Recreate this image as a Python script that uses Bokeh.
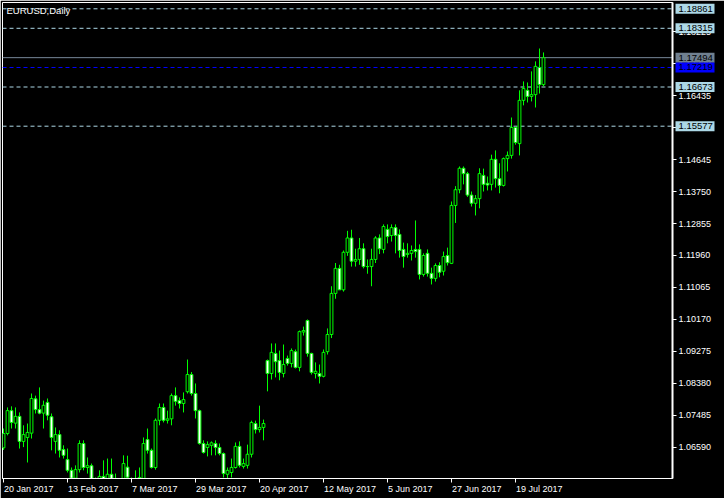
from bokeh.plotting import figure
from bokeh.layouts import row
from bokeh.models import (FixedTicker, PrintfTickFormatter, Span, Label, ColumnDataSource,
                          Range1d, LinearAxis)
from bokeh.core.properties import value
from bokeh.embed import file_html
from bokeh.resources import INLINE

# ---- data (EURUSD daily) ----
opens = [1.0658, 1.0698, 1.0762, 1.0727, 1.0746, 1.0676, 1.0687, 1.0699, 1.0795, 1.0765,
         1.0755, 1.0785, 1.0745, 1.0676, 1.0695, 1.0653, 1.0625, 1.0595, 1.0573, 1.0597,
         1.0670, 1.0603, 1.0608, 1.0540, 1.0557, 1.0578, 1.0567, 1.0584, 1.0570, 1.0545,
         1.0505, 1.0604, 1.0566, 1.0556, 1.0548, 1.0566, 1.0681, 1.0651, 1.0603, 1.0735,
         1.0771, 1.0735, 1.0739, 1.0804, 1.0790, 1.0782, 1.0815, 1.0863, 1.0810, 1.0762,
         1.0670, 1.0659, 1.0665, 1.0670, 1.0659, 1.0642, 1.0584, 1.0589, 1.0603, 1.0662,
         1.0606, 1.0609, 1.0640, 1.0726, 1.0709, 1.0715, 1.0902, 1.0866, 1.0922, 1.0902,
         1.0866, 1.0908, 1.0894, 1.0927, 1.0883, 1.0982, 1.1014, 1.0922, 1.0866, 1.0866,
         1.0858, 1.0927, 1.0975, 1.1090, 1.1160, 1.1100, 1.1205, 1.1245, 1.1180, 1.1185,
         1.1215, 1.1165, 1.1165, 1.1185, 1.1245, 1.1213, 1.1269, 1.1252, 1.1274, 1.1255,
         1.1213, 1.1199, 1.1202, 1.1213, 1.1213, 1.1143, 1.1202, 1.1146, 1.1132, 1.1168,
         1.1152, 1.1196, 1.1174, 1.1336, 1.1380, 1.1440, 1.1425, 1.1365, 1.1342, 1.1355,
         1.1420, 1.1398, 1.1395, 1.1465, 1.1411, 1.1392, 1.1467, 1.1476, 1.1554, 1.1509,
         1.1630, 1.1658, 1.1641, 1.1646, 1.1722, 1.1674]
highs = [1.0712, 1.0771, 1.0774, 1.0771, 1.0757, 1.0721, 1.0726, 1.0810, 1.0804, 1.0827,
         1.0790, 1.0796, 1.0754, 1.0715, 1.0707, 1.0665, 1.0656, 1.0603, 1.0609, 1.0679,
         1.0679, 1.0631, 1.0614, 1.0575, 1.0595, 1.0623, 1.0628, 1.0628, 1.0586, 1.0558,
         1.0637, 1.0636, 1.0575, 1.0595, 1.0603, 1.0687, 1.0712, 1.0656, 1.0740, 1.0782,
         1.0782, 1.0762, 1.0810, 1.0827, 1.0799, 1.0813, 1.0905, 1.0870, 1.0838, 1.0765,
         1.0679, 1.0676, 1.0676, 1.0679, 1.0670, 1.0645, 1.0603, 1.0628, 1.0673, 1.0676,
         1.0628, 1.0667, 1.0734, 1.0734, 1.0776, 1.0737, 1.0905, 1.0950, 1.0950, 1.0930,
         1.0947, 1.0916, 1.0936, 1.0933, 1.0986, 1.0997, 1.1017, 1.0924, 1.0897, 1.0891,
         1.0933, 1.0992, 1.1110, 1.1175, 1.1170, 1.1210, 1.1265, 1.1268, 1.1215, 1.1245,
         1.1230, 1.1185, 1.1215, 1.1250, 1.1255, 1.1283, 1.1283, 1.1283, 1.1283, 1.1269,
         1.1232, 1.1230, 1.1224, 1.1294, 1.1227, 1.1202, 1.1213, 1.1162, 1.1174, 1.1177,
         1.1207, 1.1218, 1.1347, 1.1390, 1.1445, 1.1445, 1.1430, 1.1375, 1.1365, 1.1440,
         1.1439, 1.1417, 1.1478, 1.1490, 1.1454, 1.1470, 1.1487, 1.1582, 1.1556, 1.1658,
         1.1683, 1.1680, 1.1711, 1.1739, 1.1775, 1.1764]
lows = [1.0652, 1.0693, 1.0712, 1.0712, 1.0656, 1.0660, 1.0617, 1.0684, 1.0754, 1.0752,
        1.0712, 1.0735, 1.0651, 1.0642, 1.0631, 1.0628, 1.0589, 1.0565, 1.0520, 1.0589,
        1.0595, 1.0586, 1.0525, 1.0495, 1.0540, 1.0545, 1.0550, 1.0550, 1.0520, 1.0495,
        1.0495, 1.0565, 1.0535, 1.0525, 1.0535, 1.0555, 1.0642, 1.0600, 1.0597, 1.0721,
        1.0729, 1.0726, 1.0721, 1.0776, 1.0768, 1.0757, 1.0810, 1.0804, 1.0740, 1.0667,
        1.0642, 1.0634, 1.0637, 1.0637, 1.0637, 1.0575, 1.0572, 1.0575, 1.0600, 1.0603,
        1.0600, 1.0600, 1.0631, 1.0698, 1.0701, 1.0679, 1.0816, 1.0849, 1.0855, 1.0847,
        1.0855, 1.0888, 1.0883, 1.0880, 1.0872, 1.0972, 1.0913, 1.0863, 1.0852, 1.0838,
        1.0855, 1.0919, 1.0965, 1.1075, 1.1110, 1.1095, 1.1195, 1.1165, 1.1165, 1.1170,
        1.1160, 1.1145, 1.1110, 1.1175, 1.1200, 1.1202, 1.1230, 1.1235, 1.1202, 1.1190,
        1.1162, 1.1190, 1.1182, 1.1190, 1.1129, 1.1137, 1.1137, 1.1115, 1.1123, 1.1135,
        1.1140, 1.1168, 1.1172, 1.1287, 1.1370, 1.1395, 1.1360, 1.1333, 1.1308, 1.1328,
        1.1375, 1.1378, 1.1378, 1.1386, 1.1370, 1.1389, 1.1431, 1.1467, 1.1506, 1.1476,
        1.1616, 1.1624, 1.1627, 1.1610, 1.1649, 1.1669]
closes = [1.0698, 1.0762, 1.0729, 1.0746, 1.0676, 1.0695, 1.0701, 1.0796, 1.0765, 1.0755,
          1.0777, 1.0749, 1.0687, 1.0695, 1.0651, 1.0637, 1.0595, 1.0573, 1.0597, 1.0670,
          1.0603, 1.0608, 1.0540, 1.0557, 1.0578, 1.0560, 1.0584, 1.0570, 1.0545, 1.0505,
          1.0614, 1.0576, 1.0556, 1.0545, 1.0575, 1.0670, 1.0651, 1.0603, 1.0735, 1.0771,
          1.0735, 1.0739, 1.0804, 1.0788, 1.0782, 1.0793, 1.0863, 1.0810, 1.0762, 1.0670,
          1.0645, 1.0667, 1.0672, 1.0659, 1.0642, 1.0586, 1.0595, 1.0603, 1.0662, 1.0609,
          1.0614, 1.0640, 1.0729, 1.0709, 1.0715, 1.0726, 1.0866, 1.0925, 1.0899, 1.0869,
          1.0891, 1.0894, 1.0930, 1.0883, 1.0983, 1.0986, 1.0922, 1.0869, 1.0872, 1.0858,
          1.0925, 1.0975, 1.1090, 1.1160, 1.1100, 1.1205, 1.1245, 1.1180, 1.1185, 1.1215,
          1.1165, 1.1165, 1.1185, 1.1245, 1.1215, 1.1277, 1.1249, 1.1274, 1.1252, 1.1210,
          1.1193, 1.1202, 1.1210, 1.1207, 1.1143, 1.1196, 1.1146, 1.1132, 1.1168, 1.1149,
          1.1193, 1.1176, 1.1336, 1.1380, 1.1440, 1.1425, 1.1365, 1.1342, 1.1355, 1.1425,
          1.1395, 1.1393, 1.1465, 1.1411, 1.1392, 1.1467, 1.1476, 1.1554, 1.1512, 1.1630,
          1.1663, 1.1641, 1.1646, 1.1725, 1.1674, 1.17494]

date_tick_bars = [0, 16, 32, 48, 64, 80, 96, 112, 128]
date_tick_labels = ["20 Jan 2017", "13 Feb 2017", "7 Mar 2017", "29 Mar 2017", "20 Apr 2017",
                    "12 May 2017", "5 Jun 2017", "27 Jun 2017", "19 Jul 2017"]
price_ticks = [1.06590, 1.07485, 1.08380, 1.09275, 1.10170, 1.11065, 1.11960, 1.12855,
               1.13750, 1.14645, 1.15540, 1.16435, 1.17330, 1.18225]

dashed_levels = [1.18861, 1.18315, 1.16673, 1.15577]
blue_level = 1.17219
bid_level = 1.17494
symbol_title = "EURUSD,Daily"

# ---- styling constants ----
FONT = "Liberation Sans"
GREEN = "#00FF00"
X0, X1 = -0.25, 167.25
Y0, Y1 = 1.05722, 1.19037
FRAME_W, FRAME_H = 670, 476
RIGHT_W, BOTTOM_H, TOP_H, LEFT_W = 52, 20, 2, 2

idx = list(range(len(opens)))
tops = [max(o, c) for o, c in zip(opens, closes)]
bottoms = [min(o, c) for o, c in zip(opens, closes)]
fills = ["white" if c < o else "black" for o, c in zip(opens, closes)]
src = ColumnDataSource(dict(x=idx, high=highs, low=lows, top=tops, bottom=bottoms, fill=fills))

p = figure(frame_width=FRAME_W, frame_height=FRAME_H,
           x_range=Range1d(X0, X1), y_range=Range1d(Y0, Y1),
           output_backend="svg", toolbar_location=None, y_axis_location="right",
           background_fill_color="black", border_fill_color="black",
           min_border_left=LEFT_W, min_border_top=TOP_H,
           min_border_right=RIGHT_W, min_border_bottom=BOTTOM_H)
p.xgrid.visible = False
p.ygrid.visible = False
p.outline_line_color = "white"
p.outline_line_width = 1

for lv in dashed_levels:
    p.add_layout(Span(location=lv, dimension="width", line_color="#ADD8E6",
                      line_dash="4 3", line_width=1, level="underlay"))
p.add_layout(Span(location=blue_level, dimension="width", line_color="#0000FF",
                  line_dash="4 3", line_width=1, level="underlay"))
p.add_layout(Span(location=bid_level, dimension="width", line_color="#778899",
                  line_width=1, level="underlay"))

p.segment(x0="x", y0="low", x1="x", y1="high", source=src, line_color=GREEN, line_width=1)
p.vbar(x="x", width=0.7, top="top", bottom="bottom", source=src,
       fill_color="fill", line_color=GREEN, line_width=1)

# right price axis
ya = p.yaxis[0]
ya.ticker = FixedTicker(ticks=price_ticks)
ya.formatter = PrintfTickFormatter(format="%.5f")
ya.axis_line_color = "white"
ya.axis_line_width = 2
ya.major_tick_line_color = "white"
ya.major_tick_out = 4
ya.major_tick_in = 0
ya.minor_tick_line_color = None
ya.major_label_text_color = "white"
ya.major_label_text_font = FONT
ya.major_label_text_font_size = "9px"
ya.major_label_standoff = 2

# bottom axis: tick marks at the dates
xa = p.xaxis[0]
xa.ticker = FixedTicker(ticks=date_tick_bars)
xa.major_label_overrides = {b: "" for b in date_tick_bars}
xa.axis_line_color = "white"
xa.major_tick_line_color = "white"
xa.major_tick_out = 4
xa.major_tick_in = 0
xa.minor_tick_line_color = None
xa.major_label_standoff = 0
xa.major_label_text_font_size = "1px"

# second bottom axis carrying the date texts, left-aligned on their ticks
CHAR_W = {' ': 0.278, 'J': 0.5, 'F': 0.611, 'M': 0.833, 'A': 0.667, 'a': 0.556, 'n': 0.556,
          'e': 0.556, 'b': 0.556, 'r': 0.333, 'p': 0.556, 'u': 0.556, 'l': 0.222, 'y': 0.5}
def text_w(s, size):
    return sum(CHAR_W.get(ch, 0.556) for ch in s) * size
px_per_bar = FRAME_W / (X1 - X0)
label_pos = [b + (0.5 + text_w(s, 9) / 2) / px_per_bar for b, s in zip(date_tick_bars, date_tick_labels)]
xa2 = LinearAxis(ticker=FixedTicker(ticks=label_pos),
                 major_label_overrides={lp: s for lp, s in zip(label_pos, date_tick_labels)})
xa2.axis_line_color = None
xa2.major_tick_line_color = None
xa2.major_tick_out = 0
xa2.major_tick_in = 0
xa2.minor_tick_line_color = None
xa2.major_label_text_color = "white"
xa2.major_label_text_font = FONT
xa2.major_label_text_font_size = "9px"
xa2.major_label_standoff = 1
p.add_layout(xa2, "below")

p.add_layout(Label(x=X0, y=Y1, x_offset=4, y_offset=-2, text=symbol_title,
                   text_align="left", text_baseline="top", text_color="white",
                   text_font=FONT, text_font_size="9.5px"))

# ---- overlay strip with the level price boxes (sits over the right axis) ----
box_levels = dashed_levels + [bid_level, blue_level]
box_colors = ["#ADD8E6"] * len(dashed_levels) + ["#708090", "#0000FF"]
box_src = ColumnDataSource(dict(y=box_levels, txt=["%.5f" % v for v in box_levels],
                                color=box_colors))
q = figure(frame_width=RIGHT_W, frame_height=FRAME_H,
           x_range=Range1d(0, RIGHT_W), y_range=p.y_range,
           output_backend="svg", toolbar_location=None,
           x_axis_location=None, y_axis_location=None,
           background_fill_alpha=0, border_fill_alpha=0, outline_line_color=None,
           min_border_left=0, min_border_right=0, min_border_top=TOP_H,
           min_border_bottom=BOTTOM_H)
q.grid.visible = False
q.rect(x=22.5, y="y", width=39, height=10, height_units="screen", source=box_src,
       fill_color="color", line_color=None)
q.text(x=6, y="y", text="txt", source=box_src, text_baseline="middle", text_align="left",
       text_color="black", text_font=value(FONT), text_font_size="9.5px")
q.styles = {"margin-left": "-%dpx" % RIGHT_W}

layout = row(p, q)
open("out.html", "w").write(file_html(layout, INLINE))
